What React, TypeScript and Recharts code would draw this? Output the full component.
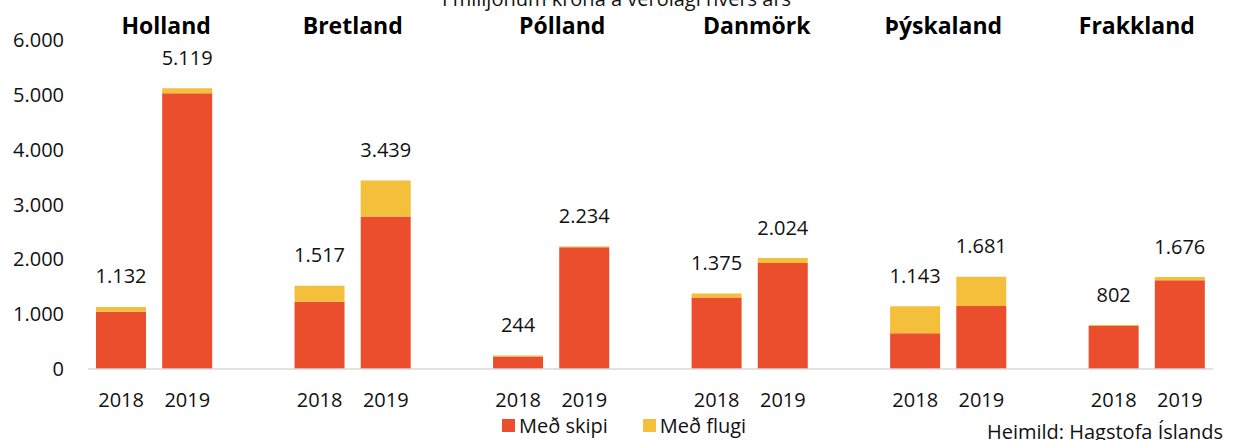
import React from 'react';
import { BarChart, Bar, XAxis, YAxis, LabelList } from 'recharts';

const countries = ['Holland', 'Bretland', 'Pólland', 'Danmörk', 'Þýskaland', 'Frakkland'];
const years = ['2018', '2019'];
const totals2018 = [1132, 1517, 244, 1375, 1143, 802];
const totals2019 = [5119, 3439, 2234, 2024, 1681, 1676];
const flugi2018 = [87, 292, 14, 70, 493, 17];
const flugi2019 = [89, 659, 14, 89, 531, 56];
const yTicks = [0, 1000, 2000, 3000, 4000, 5000, 6000];
const seriesNames = ['Með skipi', 'Með flugi'];
const title = 'Í milljónum króna á verðlagi hvers árs';
const source = 'Heimild: Hagstofa Íslands';

const RED = '#EB4E2C';
const YELLOW = '#F4C03C';
const FONT = '"Open Sans", sans-serif';

type Row = { year: string; country?: string; group?: number; skipi?: number | null; flugi?: number | null; total?: number | null };

const rows: Row[] = [];
countries.forEach((c, i) => {
  rows.push({ year: years[0], country: c, group: i, skipi: totals2018[i] - flugi2018[i], flugi: flugi2018[i], total: totals2018[i] });
  rows.push({ year: years[1], skipi: totals2019[i] - flugi2019[i], flugi: flugi2019[i], total: totals2019[i] });
  if (i < countries.length - 1) rows.push({ year: '', skipi: null, flugi: null, total: null });
});

const fmt = (v: number) => String(v).replace(/\B(?=(\d{3})+(?!\d))/g, '.');

// small visual nudges of the country headings (pixels)
const headingNudge = [12, 0, 11, 7, -5, -10];

const CountryTick = (props: any) => {
  const { x, index } = props;
  const row = rows[index];
  if (!row || !row.country) return null;
  const slot = 1125 / rows.length;
  return (
    <text x={x + slot / 2 + headingNudge[row.group as number]} y={25} textAnchor="middle" dominantBaseline="central"
      fontFamily={FONT} fontWeight={700} fontSize={23} fill="#000">
      {row.country}
    </text>
  );
};

const TotalLabel = (props: any) => {
  const { x, y, width, value } = props;
  if (value == null) return null;
  return (
    <text x={x + width / 2} y={y - 31} textAnchor="middle" dominantBaseline="central"
      fontFamily={FONT} fontSize={20} fill="#111">
      {fmt(value)}
    </text>
  );
};

export default function App() {
  return (
    <div style={{ position: 'absolute', left: 0, top: 0, width: 1233, height: 440, background: '#fff', overflow: 'hidden' }}>
      <div style={{ position: 'absolute', left: 0, width: 1233, top: -15, textAlign: 'center', fontFamily: FONT, fontSize: 20, color: '#111' }}>
        {title}
      </div>
      <BarChart width={1233} height={440} data={rows} margin={{ top: 0, right: 20, left: 0, bottom: 0 }}>
        <XAxis xAxisId="top" orientation="top" dataKey="year" height={40} axisLine={false} tickLine={false}
          tick={<CountryTick />} interval={0} />
        <XAxis dataKey="year" height={71} interval={0} axisLine={{ stroke: '#D9D9D9', strokeWidth: 1.5 }} tickLine={false}
          tickSize={0} tickMargin={24} tick={{ fontFamily: FONT, fontSize: 20, fill: '#111' }} />
        <YAxis domain={[0, 6000]} ticks={yTicks} width={88} axisLine={false} tickLine={false} tickSize={0} tickMargin={24}
          tickFormatter={fmt} tick={{ fontFamily: FONT, fontSize: 20, fill: '#111' }} interval={0} />
        <Bar dataKey="skipi" stackId="a" fill={RED} barSize={50} isAnimationActive={false} />
        <Bar dataKey="flugi" stackId="a" fill={YELLOW} barSize={50} isAnimationActive={false}>
          <LabelList dataKey="total" content={<TotalLabel />} />
        </Bar>
      </BarChart>
      <div style={{ position: 'absolute', left: 502, top: 412, display: 'flex', alignItems: 'center', fontFamily: FONT, fontSize: 20, color: '#111' }}>
        <span style={{ display: 'inline-block', width: 13, height: 13, background: RED, marginRight: 4 }} />
        <span style={{ marginRight: 35 }}>{seriesNames[0]}</span>
        <span style={{ display: 'inline-block', width: 13, height: 13, background: YELLOW, marginRight: 4 }} />
        <span>{seriesNames[1]}</span>
      </div>
      <div style={{ position: 'absolute', right: 10, top: 418, fontFamily: FONT, fontSize: 20, color: '#111', whiteSpace: 'nowrap' }}>
        {source}
      </div>
    </div>
  );
}
